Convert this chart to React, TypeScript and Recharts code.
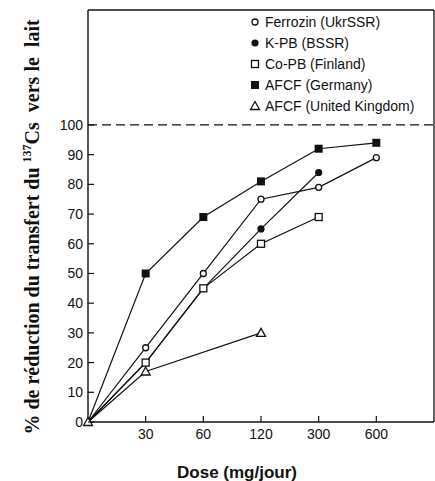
import React from 'react';
import { LineChart, Line, XAxis, YAxis, ReferenceLine } from 'recharts';

const doses = ['0', '30', '60', '120', '300', '600'];
const ferrozin = [0, 25, 50, 75, 79, 89];
const kpb = [0, 20, 45, 65, 84, null];
const coPb = [0, 20, 45, 60, 69, null];
const afcfGermany = [0, 50, 69, 81, 92, 94];
const afcfUk = [0, 17, null, 30, null, null];
const yTicks = [0, 10, 20, 30, 40, 50, 60, 70, 80, 90, 100];

const rows = doses.map((d, i) => ({
  x: i,
  ferrozin: ferrozin[i],
  kpb: kpb[i],
  coPb: coPb[i],
  germany: afcfGermany[i],
  uk: afcfUk[i],
}));

const INK = '#111';
const Y_MAX = 138.7;

type Kind = 'openCircle' | 'dot' | 'openSquare' | 'square' | 'triangle';

function Marker({ kind, cx, cy }: { kind: Kind; cx: number; cy: number }) {
  switch (kind) {
    case 'openCircle':
      return <circle cx={cx} cy={cy} r={3} fill="#fff" stroke={INK} strokeWidth={1.3} />;
    case 'dot':
      return <circle cx={cx} cy={cy} r={3.6} fill={INK} />;
    case 'openSquare':
      return <rect x={cx - 3.5} y={cy - 3.5} width={7} height={7} fill="#fff" stroke={INK} strokeWidth={1.3} />;
    case 'square':
      return <rect x={cx - 4} y={cy - 4} width={8} height={8} fill={INK} />;
    default:
      return (
        <path d={`M${cx},${cy - 4.5} L${cx + 4.5},${cy + 3.5} L${cx - 4.5},${cy + 3.5} Z`} fill="#fff" stroke={INK} strokeWidth={1.3} />
      );
  }
}

const makeDot = (kind: Kind, from: number) => (props: any) => {
  const { cx, cy, index, value } = props;
  if (value == null || index < from || cx == null || cy == null) return <g key={`n${index}`} />;
  return (
    <g key={`d${index}`}>
      <Marker kind={kind} cx={cx} cy={cy} />
    </g>
  );
};

const XTick = (props: any) => {
  const { x, y, payload } = props;
  return (
    <g>
      <line x1={x} x2={x} y1={y} y2={y - 6} stroke={INK} strokeWidth={1.2} />
      <text x={x} y={y + 17} textAnchor="middle" fontSize={14} fill={INK} fontFamily="Liberation Sans, Arial, sans-serif">
        {doses[payload.value]}
      </text>
    </g>
  );
};

const YTick = (props: any) => {
  const { x, y, payload } = props;
  return (
    <g>
      <line x1={x} x2={x + 6} y1={y} y2={y} stroke={INK} strokeWidth={1.2} />
      <text x={x - 5} y={y + 5} textAnchor="end" fontSize={14} fill={INK} fontFamily="Liberation Sans, Arial, sans-serif">
        {payload.value}
      </text>
    </g>
  );
};

const legendItems: { label: string; kind: Kind }[] = [
  { label: 'Ferrozin (UkrSSR)', kind: 'openCircle' },
  { label: 'K-PB (BSSR)', kind: 'dot' },
  { label: 'Co-PB (Finland)', kind: 'openSquare' },
  { label: 'AFCF (Germany)', kind: 'square' },
  { label: 'AFCF (United Kingdom)', kind: 'triangle' },
];

export default function App() {
  return (
    <div style={{ position: 'absolute', left: 0, top: 0, width: 435, height: 481, background: '#fff' }}>
      <LineChart width={435} height={481} data={rows} margin={{ top: 10, right: 1, bottom: 0, left: 0 }}>
        <XAxis
          dataKey="x"
          type="number"
          domain={[0, 6]}
          ticks={[1, 2, 3, 4, 5]}
          interval={0}
          height={59}
          axisLine={{ stroke: INK, strokeWidth: 1.4 }}
          tickLine={false}
          tickSize={0}
          tickMargin={0}
          tick={<XTick />}
        />
        <YAxis
          type="number"
          domain={[0, Y_MAX]}
          ticks={yTicks}
          interval={0}
          width={88}
          axisLine={{ stroke: INK, strokeWidth: 1.4 }}
          tickLine={false}
          tickSize={0}
          tickMargin={0}
          tick={<YTick />}
        />
        <ReferenceLine y={Y_MAX} stroke={INK} strokeWidth={1.3} ifOverflow="visible" />
        <ReferenceLine x={6} stroke={INK} strokeWidth={1.3} ifOverflow="visible" />
        <ReferenceLine y={100} stroke={INK} strokeWidth={1.3} strokeDasharray="9 5" />
        <Line type="linear" dataKey="uk" stroke={INK} strokeWidth={1.2} connectNulls dot={makeDot('triangle', 0)} activeDot={false} isAnimationActive={false} />
        <Line type="linear" dataKey="kpb" stroke={INK} strokeWidth={1.2} dot={makeDot('dot', 3)} activeDot={false} isAnimationActive={false} />
        <Line type="linear" dataKey="coPb" stroke={INK} strokeWidth={1.2} dot={makeDot('openSquare', 1)} activeDot={false} isAnimationActive={false} />
        <Line type="linear" dataKey="ferrozin" stroke={INK} strokeWidth={1.2} dot={makeDot('openCircle', 1)} activeDot={false} isAnimationActive={false} />
        <Line type="linear" dataKey="germany" stroke={INK} strokeWidth={1.2} dot={makeDot('square', 1)} activeDot={false} isAnimationActive={false} />
      </LineChart>

      <div style={{ position: 'absolute', left: 249, top: 11, fontFamily: 'Liberation Sans, Arial, sans-serif', fontSize: 14, color: INK }}>
        {legendItems.map((it) => (
          <div key={it.label} style={{ height: 21, display: 'flex', alignItems: 'center' }}>
            <svg width={12} height={12} style={{ marginRight: 4 }}>
              <Marker kind={it.kind} cx={6} cy={6} />
            </svg>
            <span>{it.label}</span>
          </div>
        ))}
      </div>

      <div
        style={{
          position: 'absolute',
          left: 32,
          top: 227,
          transform: 'translate(-50%, -50%) rotate(-90deg)',
          whiteSpace: 'nowrap',
          fontFamily: 'Liberation Serif, Times New Roman, serif',
          fontWeight: 'bold',
          fontSize: 20,
          color: INK,
        }}
      >
        % de réduction du transfert du <sup style={{ fontSize: 12 }}>137</sup>Cs&nbsp; vers le&nbsp; lait
      </div>

      <div
        style={{
          position: 'absolute',
          left: 237,
          top: 473,
          transform: 'translate(-50%, -50%)',
          whiteSpace: 'nowrap',
          fontFamily: 'Liberation Sans, Arial, sans-serif',
          fontWeight: 'bold',
          fontSize: 17,
          color: INK,
        }}
      >
        Dose (mg/jour)
      </div>
    </div>
  );
}
